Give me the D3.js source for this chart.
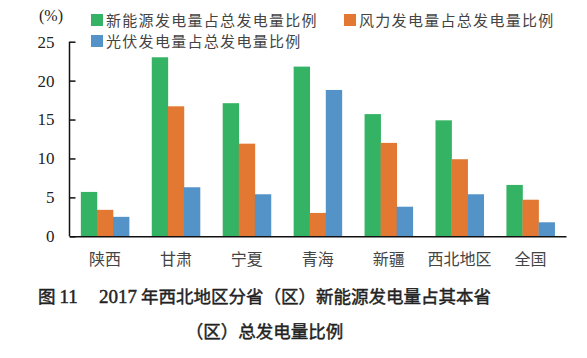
<!DOCTYPE html>
<html><head><meta charset="utf-8">
<script src="https://cdn.jsdelivr.net/npm/d3@7"></script>
<style>body{margin:0;background:#fff}</style>
</head><body><svg id="c" width="587" height="358"></svg>
<script>
const categories = ["陕西","甘肃","宁夏","青海","新疆","西北地区","全国"];
const seriesNames = ["新能源发电量占总发电量比例","风力发电量占总发电量比例","光伏发电量占总发电量比例"];
const newEnergy = [5.7,23.0,17.1,21.8,15.7,14.9,6.6];
const wind = [3.4,16.7,11.9,3.0,12.0,9.9,4.7];
const solar = [2.5,6.3,5.4,18.8,3.8,5.4,1.8];
const yTicks = [0,5,10,15,20,25];
const colors = ["#34b364","#e27832","#5393c8"];
const seriesVals = [newEnergy, wind, solar];

const svg = d3.select("#c");
const x0 = d3.scaleBand().domain(categories).range([69.5,566]).paddingInner(0.32).paddingOuter(0.16);
const x1 = d3.scaleBand().domain([0,1,2]).range([0,x0.bandwidth()]);
const y = d3.scaleLinear().domain([0,25]).range([236.3,41.7]);

const g = svg.append("g");
categories.forEach((c,i)=>{
  seriesVals.forEach((s,j)=>{
    g.append("rect").attr("x",x0(c)+x1(j)).attr("width",x1.bandwidth()+0.3)
      .attr("y",y(s[i])).attr("height",y(0)-y(s[i])).attr("fill",colors[j]);
  });
});

const yAxis = d3.axisLeft(y).tickValues(yTicks).tickSize(-6).tickPadding(15);
const ya = svg.append("g").attr("transform","translate(69.5,0)").call(yAxis);
ya.select(".domain").attr("stroke","#111").attr("stroke-width",1.5).attr("d","M0,41.7V236.3");
ya.selectAll(".tick line").attr("stroke","#111").attr("stroke-width",1.5);
ya.selectAll("text").attr("font-family","Liberation Serif").attr("font-size",17).attr("fill","#222");

const xAxis = d3.axisBottom(x0).tickSize(0).tickPadding(17);
const xa = svg.append("g").attr("transform","translate(0,236.3)").call(xAxis);
xa.select(".domain").attr("stroke","#111").attr("stroke-width",1.5);
xa.selectAll("text").attr("font-family","Noto Sans CJK SC").attr("font-size",16).attr("fill","#444");

svg.append("text").attr("x",51).attr("y",21).attr("text-anchor","middle")
  .attr("font-family","Liberation Serif").attr("font-size",16).attr("fill","#222").text("(%)");

const legendPos = [[91,14],[344,14],[91,35]];
seriesNames.forEach((n,j)=>{
  svg.append("rect").attr("x",legendPos[j][0]).attr("y",legendPos[j][1]).attr("width",12).attr("height",12).attr("fill",colors[j]);
  svg.append("text").attr("x",legendPos[j][0]+15).attr("y",legendPos[j][1]+12)
    .attr("font-family","Noto Sans CJK SC").attr("font-size",15).attr("letter-spacing",1.3).attr("fill","#444").text(n);
});

const cap = svg.append("g").attr("font-family","Noto Sans CJK SC").attr("font-size",17.5).attr("fill","#222")
  .attr("stroke","#222").attr("stroke-width",0.45).attr("text-anchor","middle");
const t1 = cap.append("text").attr("x",264.5).attr("y",303);
t1.append("tspan").text("图 ");
t1.append("tspan").attr("font-family","Liberation Serif").attr("font-size",19).text("11");
t1.append("tspan").text("　 ");
t1.append("tspan").attr("font-family","Liberation Serif").attr("font-size",19).text("2017");
t1.append("tspan").text(" 年西北地区分省（区）新能源发电量占其本省");
cap.append("text").attr("x",264.5).attr("y",338).text("（区）总发电量比例");
</script></body></html>
